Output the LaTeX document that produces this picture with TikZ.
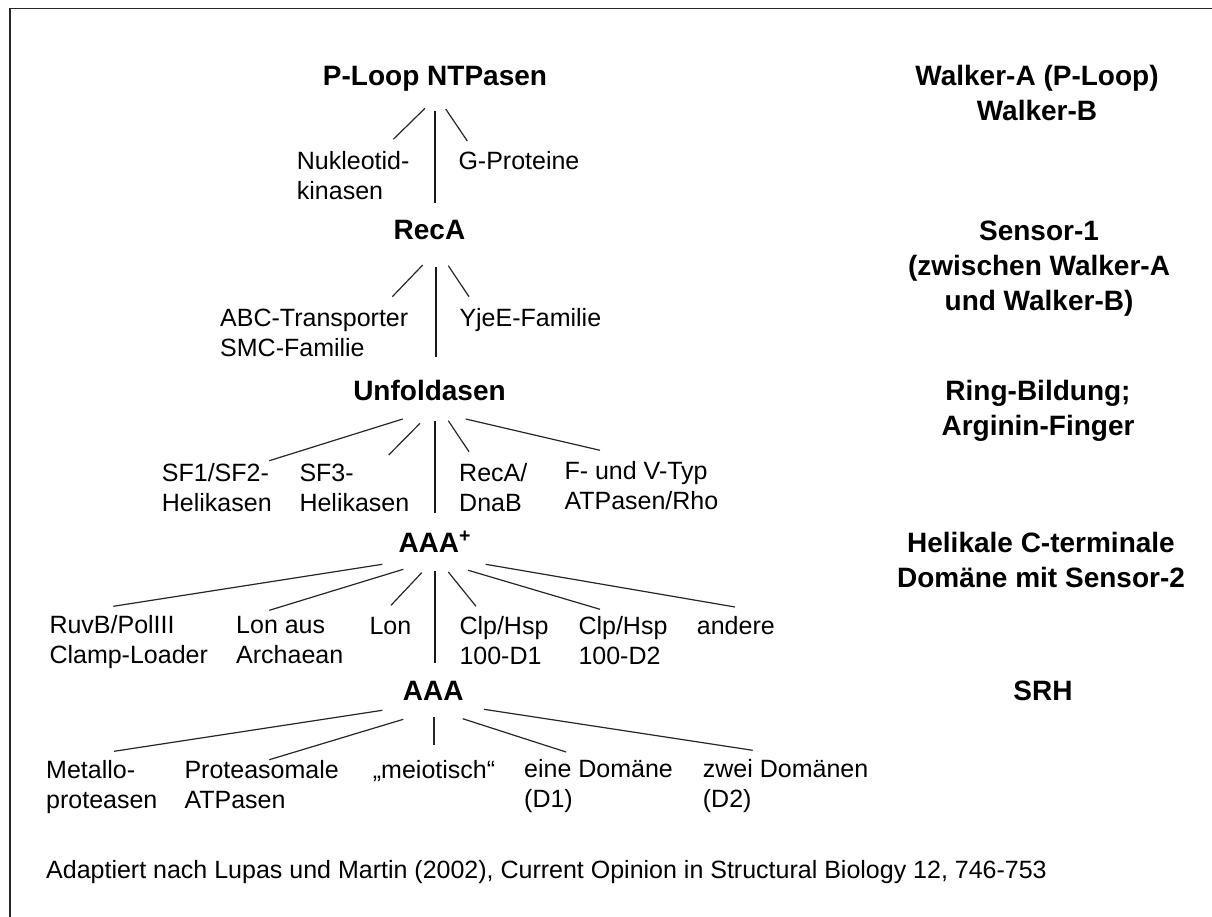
\documentclass[tikz,border=0pt]{standalone}
\usepackage{fontspec}
\setmainfont{Liberation Sans}
\newcommand\lblock[1]{\begin{tabular}[t]{@{}l@{}}#1\end{tabular}}
\newcommand\cblock[1]{\begin{tabular}[t]{@{}c@{}}#1\end{tabular}}
\begin{document}
\begin{tikzpicture}[x=1pt,y=-1pt,
  reg/.style={inner sep=0pt, font=\fontsize{25}{30}\selectfont, anchor=base west},
  lvl/.style={inner sep=0pt, font=\fontsize{28}{35}\selectfont\bfseries, anchor=base},
  feat/.style={inner sep=0pt, font=\fontsize{28}{35}\selectfont\bfseries, anchor=base},
  trunk/.style={line width=2.6pt, draw=black!90},
  branch/.style={line width=1.2pt, draw=black!85},
  frame/.style={line width=1.6pt, draw=black!85}]
\useasboundingbox (0,0) rectangle (1212,917);
\coordinate (fa) at (10,940);
\coordinate (fb) at (10,8.5);
\coordinate (fc) at (1240,8.5);
\draw[frame] (fa) -- (fb) -- (fc);

% level nodes
\node[lvl] (ploop) at (435,86) {P-Loop NTPasen};
\node[lvl] (reca) at (429.5,240) {RecA};
\node[lvl] (unfold) at (429.5,400.7) {Unfoldasen};
\node[lvl, anchor=base west] (aaap) at (398.3,552) {AAA\textsuperscript{+}};
\node[lvl] (aaa) at (433.3,700.3) {AAA};

% features (right column)
\node[feat] (f1) at (1037,86) {\cblock{Walker-A (P-Loop)\\Walker-B}};
\node[feat] (f2) at (1039,240.7) {\cblock{Sensor-1\\(zwischen Walker-A\\und Walker-B)}};
\node[feat] (f3) at (1038,400.4) {\cblock{Ring-Bildung;\\Arginin-Finger}};
\node[feat] (f4) at (1041,552) {\cblock{Helikale C-terminale\\Domäne mit Sensor-2}};
\node[feat] (f5) at (1043,700.6) {SRH};

% subgroups
\node[reg] (nukl) at (296.7,170) {\lblock{Nukleotid-\\kinasen}};
\node[reg] (gprot) at (458.3,170) {G-Proteine};
\node[reg] (abc) at (220,326) {\lblock{ABC-Transporter\\SMC-Familie}};
\node[reg] (yjee) at (459.3,326) {YjeE-Familie};
\node[reg] (sf12) at (161.7,481) {\lblock{SF1/SF2-\\Helikasen}};
\node[reg] (sf3) at (299.3,481) {\lblock{SF3-\\Helikasen}};
\node[reg] (rdnab) at (459,481) {\lblock{RecA/\\DnaB}};
\node[reg] (fv) at (564.3,479) {\lblock{F- und V-Typ\\ATPasen/Rho}};
\node[reg] (ruvb) at (49.3,633) {\lblock{RuvB/PolIII\\Clamp-Loader}};
\node[reg] (lonaus) at (236,633) {\lblock{Lon aus\\Archaean}};
\node[reg] (lon) at (369.3,634) {Lon};
\node[reg] (clpa) at (459.3,634) {\lblock{Clp/Hsp\\100-D1}};
\node[reg] (clpb) at (578.3,634) {\lblock{Clp/Hsp\\100-D2}};
\node[reg] (andere) at (696.7,634) {andere};
\node[reg] (metallo) at (46,778) {\lblock{Metallo-\\proteasen}};
\node[reg] (protea) at (184.3,778) {\lblock{Proteasomale\\ATPasen}};
\node[reg] (meio) at (372.7,778) {„meiotisch“};
\node[reg] (eine) at (524,777) {\lblock{eine Domäne\\(D1)}};
\node[reg] (zwei) at (702.7,777) {\lblock{zwei Domänen\\(D2)}};
\node[reg] (foot) at (46,878.7) {Adaptiert nach Lupas und Martin (2002), Current Opinion in Structural Biology 12, 746-753};

% connector end points
\coordinate (t1s) at (435,110.7);  \coordinate (t1e) at (435,203);
\coordinate (b1as) at (425,108.3); \coordinate (b1ae) at (393.3,139.3);
\coordinate (b1bs) at (445.7,109); \coordinate (b1be) at (467.3,141);
\coordinate (t2s) at (436,266.7);  \coordinate (t2e) at (436,357);
\coordinate (b2as) at (422.7,265); \coordinate (b2ae) at (392.3,296.7);
\coordinate (b2bs) at (448.3,265.7); \coordinate (b2be) at (469,296.7);
\coordinate (t3s) at (435,420.7);  \coordinate (t3e) at (435,512.7);
\coordinate (b3as) at (402.7,419); \coordinate (b3ae) at (269.3,460.7);
\coordinate (b3bs) at (420,423.3); \coordinate (b3be) at (388.7,455);
\coordinate (b3cs) at (448.3,420.7); \coordinate (b3ce) at (469,451.7);
\coordinate (b3ds) at (465.7,419); \coordinate (b3de) at (600,450.3);
\coordinate (t4s) at (435,571);    \coordinate (t4e) at (435,662.7);
\coordinate (b4as) at (382.3,564.3); \coordinate (b4ae) at (113.3,606.3);
\coordinate (b4bs) at (403.3,569.3); \coordinate (b4be) at (269.3,610.3);
\coordinate (b4cs) at (421.7,572.7); \coordinate (b4ce) at (391,605.3);
\coordinate (b4ds) at (448.3,572); \coordinate (b4de) at (476,606.3);
\coordinate (b4es) at (468.3,570.3); \coordinate (b4ee) at (600,609.3);
\coordinate (b4fs) at (485.7,564.3); \coordinate (b4fe) at (735,607);
\coordinate (t5s) at (434,717);    \coordinate (t5e) at (434,745.3);
\coordinate (b5as) at (382.3,710.3); \coordinate (b5ae) at (114,751.3);
\coordinate (b5bs) at (403.3,719.3); \coordinate (b5be) at (269.3,759.7);
\coordinate (b5cs) at (462.7,718.7); \coordinate (b5ce) at (566,752);
\coordinate (b5ds) at (484,709.3); \coordinate (b5de) at (752.7,750.3);

% trunks
\draw[trunk] (t1s) -- (t1e);
\draw[trunk] (t2s) -- (t2e);
\draw[trunk] (t3s) -- (t3e);
\draw[trunk] (t4s) -- (t4e);
% branches
\draw[branch] (b1as) -- (b1ae);
\draw[branch] (b1bs) -- (b1be);
\draw[branch] (b2as) -- (b2ae);
\draw[branch] (b2bs) -- (b2be);
\draw[branch] (b3as) -- (b3ae);
\draw[branch] (b3bs) -- (b3be);
\draw[branch] (b3cs) -- (b3ce);
\draw[branch] (b3ds) -- (b3de);
\draw[branch] (b4as) -- (b4ae);
\draw[branch] (b4bs) -- (b4be);
\draw[branch] (b4cs) -- (b4ce);
\draw[branch] (b4ds) -- (b4de);
\draw[branch] (b4es) -- (b4ee);
\draw[branch] (b4fs) -- (b4fe);
\draw[branch] (t5s) -- (t5e);
\draw[branch] (b5as) -- (b5ae);
\draw[branch] (b5bs) -- (b5be);
\draw[branch] (b5cs) -- (b5ce);
\draw[branch] (b5ds) -- (b5de);
\end{tikzpicture}
\end{document}
